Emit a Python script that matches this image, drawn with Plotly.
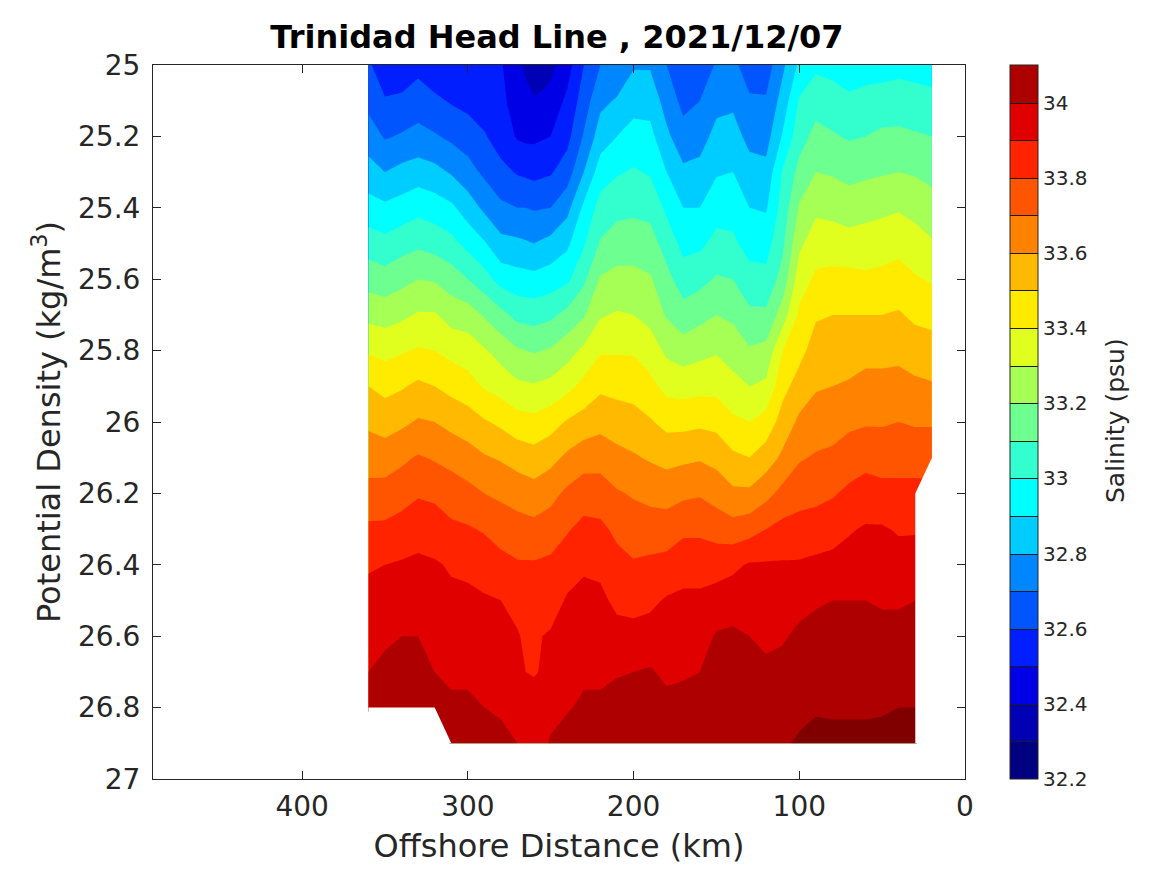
import numpy as np
import plotly.graph_objects as go

density = [25.0, 25.1, 25.2, 25.3, 25.4, 25.5, 25.6, 25.7, 25.8, 25.9,
           26.0, 26.1, 26.2, 26.3, 26.4, 26.5, 26.6, 26.7, 26.8, 26.9]
N = None
# salinity at each station, listed from the lightest to the densest level
s020 = [32.95,33.03,33.10,33.17,33.24,33.31,33.39,33.47,33.54,33.61,33.69,33.76,N,N,N,N,N,N,N,N]
s030 = [32.96,33.04,33.11,33.19,33.27,33.34,33.41,33.48,33.55,33.62,33.69,33.76,33.83,33.89,33.95,34.00,34.03,34.06,34.10,34.13]
s040 = [32.97,33.05,33.12,33.20,33.29,33.37,33.44,33.51,33.57,33.64,33.70,33.76,33.83,33.89,33.94,33.99,34.03,34.06,34.10,34.13]
s050 = [32.96,33.04,33.12,33.19,33.28,33.35,33.43,33.50,33.57,33.63,33.69,33.76,33.83,33.91,33.95,33.99,34.03,34.06,34.09,34.13]
s060 = [32.96,33.03,33.10,33.18,33.27,33.34,33.42,33.50,33.57,33.63,33.69,33.77,33.84,33.91,33.95,34.00,34.03,34.06,34.09,34.12]
s070 = [32.94,33.02,33.09,33.17,33.25,33.34,33.43,33.50,33.56,33.61,33.68,33.75,33.82,33.89,33.94,34.00,34.03,34.06,34.09,34.12]
s080 = [32.97,33.04,33.11,33.19,33.27,33.35,33.43,33.50,33.55,33.60,33.66,33.72,33.79,33.86,33.93,34.00,34.03,34.06,34.09,34.12]
s090 = [32.98,33.06,33.13,33.20,33.28,33.35,33.42,33.49,33.54,33.59,33.65,33.71,33.77,33.85,33.92,33.99,34.03,34.06,34.09,34.13]
s100 = [32.92,33.01,33.06,33.13,33.21,33.28,33.35,33.42,33.47,33.54,33.62,33.69,33.76,33.84,33.91,33.97,34.02,34.05,34.08,34.11]
s110 = [32.78,32.84,32.91,33.01,33.04,33.08,33.14,33.25,33.40,33.47,33.54,33.62,33.73,33.83,33.91,33.95,33.99,34.03,34.06,34.09]
s120 = [32.65,32.71,32.76,32.83,32.89,32.96,33.03,33.12,33.23,33.32,33.44,33.55,33.67,33.80,33.91,33.94,33.98,34.02,34.05,34.09]
s130 = [32.66,32.71,32.77,32.84,32.90,32.96,33.04,33.12,33.21,33.30,33.40,33.50,33.62,33.76,33.91,33.95,34.00,34.03,34.06,34.09]
s140 = [32.72,32.78,32.84,32.90,32.96,33.02,33.10,33.18,33.26,33.33,33.42,33.52,33.62,33.74,33.88,33.95,34.02,34.04,34.06,34.08]
s150 = [32.71,32.77,32.83,32.89,32.96,33.03,33.11,33.20,33.29,33.37,33.47,33.57,33.66,33.76,33.86,33.94,34.01,34.03,34.05,34.08]
s160 = [32.64,32.70,32.76,32.83,32.90,32.98,33.07,33.17,33.27,33.37,33.48,33.59,33.69,33.78,33.86,33.92,33.96,34.00,34.04,34.07]
s170 = [32.61,32.67,32.74,32.82,32.90,32.97,33.05,33.14,33.25,33.36,33.47,33.58,33.68,33.78,33.86,33.92,33.95,33.99,34.03,34.06]
s180 = [32.70,32.76,32.82,32.90,32.98,33.06,33.13,33.19,33.28,33.37,33.47,33.57,33.66,33.75,33.83,33.91,33.94,33.98,34.03,34.07]
s190 = [32.79,32.86,32.93,32.99,33.07,33.14,33.21,33.27,33.35,33.43,33.51,33.59,33.67,33.75,33.82,33.88,33.94,34.01,34.05,34.08]
s200 = [32.79,32.86,32.94,33.01,33.08,33.15,33.23,33.30,33.39,33.46,33.54,33.61,33.69,33.75,33.81,33.87,33.93,34.00,34.05,34.08]
s210 = [32.72,32.81,32.90,32.99,33.07,33.15,33.23,33.31,33.39,33.47,33.55,33.63,33.71,33.78,33.83,33.88,33.93,33.99,34.05,34.08]
s220 = [32.70,32.775,32.85,32.95,33.04,33.11,33.21,33.29,33.39,33.48,33.57,33.66,33.75,33.82,33.88,33.92,33.95,33.98,34.02,34.06]
s230 = [32.60,32.65,32.71,32.80,32.92,32.99,33.08,33.19,33.32,33.43,33.54,33.66,33.75,33.83,33.89,33.92,33.95,33.98,34.02,34.06]
s240 = [32.46,32.52,32.57,32.65,32.77,32.88,32.98,33.13,33.26,33.37,33.51,33.62,33.72,33.79,33.86,33.91,33.94,33.97,33.99,34.05]
s250 = [32.37,32.44,32.50,32.59,32.70,32.83,32.95,33.08,33.21,33.33,33.46,33.57,33.67,33.75,33.82,33.86,33.91,33.94,33.97,34.01]
s255 = [32.35,32.42,32.49,32.58,32.695,32.815,32.94,33.07,33.20,33.32,33.445,33.555,33.655,33.74,33.815,33.85,33.90,33.905,33.94,33.98]
s260 = [32.34,32.41,32.48,32.57,32.69,32.80,32.93,33.06,33.19,33.31,33.43,33.54,33.64,33.73,33.81,33.83,33.86,33.895,33.93,33.96]
s265 = [32.38,32.43,32.48,32.58,32.70,32.81,32.935,33.065,33.20,33.315,33.435,33.55,33.65,33.735,33.81,33.84,33.88,33.90,33.94,33.98]
s270 = [32.42,32.44,32.49,32.59,32.70,32.82,32.94,33.07,33.21,33.32,33.44,33.56,33.66,33.74,33.81,33.86,33.91,33.94,33.97,34.00]
s280 = [32.51,32.53,32.55,32.63,32.72,32.83,32.96,33.13,33.26,33.36,33.48,33.59,33.68,33.76,33.83,33.90,33.93,33.96,33.99,34.02]
s290 = [32.51,32.54,32.61,32.68,32.78,32.91,33.04,33.19,33.31,33.39,33.51,33.61,33.70,33.79,33.86,33.91,33.94,33.97,34.00,34.05]
s300 = [32.52,32.57,32.65,32.74,32.85,32.97,33.10,33.25,33.35,33.44,33.55,33.64,33.73,33.81,33.88,33.92,33.95,33.98,34.02,34.07]
s310 = [32.53,32.59,32.68,32.79,32.92,33.03,33.15,33.26,33.37,33.47,33.57,33.67,33.75,33.82,33.89,33.92,33.95,33.98,34.02,34.08]
s320 = [32.53,32.62,32.71,32.83,32.95,33.06,33.19,33.31,33.40,33.50,33.60,33.69,33.78,33.85,33.91,33.94,33.97,34.00,34.04,N]
s330 = [32.57,32.65,32.73,32.85,32.97,33.08,33.20,33.31,33.41,33.52,33.61,33.71,33.79,33.86,33.92,33.96,34.00,34.03,34.06,N]
s340 = [32.53,32.62,32.71,32.83,32.94,33.06,33.17,33.28,33.39,33.49,33.58,33.68,33.76,33.84,33.91,33.95,34.00,34.04,34.07,N]
s350 = [32.52,32.61,32.69,32.80,32.92,33.03,33.14,33.26,33.37,33.47,33.56,33.65,33.74,33.82,33.90,33.94,33.98,34.03,34.07,N]
s360 = [32.62,32.67,32.75,32.84,32.94,33.05,33.16,33.27,33.39,33.50,33.58,33.66,33.73,33.82,33.89,33.93,33.96,34.00,34.03,N]

stations = [20,30,40,50,60,70,80,90,100,110,120,130,140,150,160,170,180,190,200,
            210,220,230,240,250,255,260,265,270,280,290,300,310,320,330,340,350,360]
columns = [s020,s030,s040,s050,s060,s070,s080,s090,s100,s110,s120,s130,s140,s150,s160,s170,s180,s190,s200,
           s210,s220,s230,s240,s250,s255,s260,s265,s270,s280,s290,s300,s310,s320,s330,s340,s350,s360]

# edges of the sampled section
gap_left_km = [360, 320, 310, 360]
gap_left_density = [26.8, 26.8, 26.9, 26.9]
gap_right_km = [30, 20, 20, 30]
gap_right_density = [26.2, 26.1, 26.9, 26.9]

band_colors = ["#000080", "#0000b4", "#0000e6", "#001eff", "#0055ff", "#0087ff", "#00cdff",
               "#00ffff", "#32ffcd", "#6eff91", "#a5ff55", "#e1ff1e", "#ffeb00", "#ffb900",
               "#ff8200", "#ff5500", "#ff2300", "#e10000", "#af0000", "#800000"]
bar_colors = band_colors[:-1]
title_text = "Trinidad Head Line , 2021/12/07"

def stepped(colors):
    n = len(colors)
    out = []
    for i, c in enumerate(colors):
        out += [[i / n, c], [(i + 1) / n, c]]
    return out

Z = np.array([[np.nan if v is None else v for v in col] for col in columns], dtype=float).T
INK = "#262626"
FONT = "DejaVu Sans"

fig = go.Figure()
fig.add_trace(go.Contour(
    x=stations, y=density, z=Z, connectgaps=False, autocontour=False,
    contours=dict(start=32.3, end=34.1, size=0.1, coloring="fill", showlines=False),
    line=dict(width=0, smoothing=0), colorscale=stepped(band_colors), showscale=False, hoverinfo="skip"))
# legend bar carrier: sits outside the axis range, only its colour bar shows
fig.add_trace(go.Contour(
    x=[1000, 1001], y=[25, 27], z=[[32.2, 32.2], [34.1, 34.1]], autocontour=False,
    zmin=32.2, zmax=34.1,
    contours=dict(start=32.3, end=34.0, size=0.1, coloring="fill", showlines=True),
    line=dict(width=1, color="#1a1a1a", smoothing=0), colorscale=stepped(bar_colors), showscale=True,
    hoverinfo="skip",
    colorbar=dict(thickness=28, thicknessmode="pixels", len=714, lenmode="pixels",
                  x=(1010 - 153) / 812, xanchor="left", xpad=0, y=0, yanchor="bottom", ypad=0,
                  tick0=32.2, dtick=0.2, ticks="", outlinecolor=INK, outlinewidth=1,
                  tickfont=dict(family=FONT, size=20, color=INK))))
for xs, ys in [(gap_left_km, gap_left_density), (gap_right_km, gap_right_density)]:
    fig.add_trace(go.Scatter(x=xs, y=ys, mode="lines", fill="toself", fillcolor="white",
                             line=dict(width=0, color="white"), hoverinfo="skip", showlegend=False))

axis = dict(showgrid=False, zeroline=False, showline=True, mirror="ticks", linecolor=INK, linewidth=1,
            ticks="inside", ticklen=8, tickcolor=INK, tickwidth=1,
            tickfont=dict(family=FONT, size=28, color=INK), layer="above traces")
fig.update_layout(
    width=1151, height=859, margin=dict(l=145, r=194, t=57, b=88, autoexpand=False),
    paper_bgcolor="white", plot_bgcolor="white", showlegend=False,
    title=dict(text="<b>" + title_text + "</b>", x=(557 - 8) / 1151, xanchor="center", y=1 - (37 - 8) / 859, yanchor="middle",
               font=dict(family=FONT, size=32, color="black")),
    xaxis=dict(axis, range=[490, 0], tick0=0, dtick=100, ticklabelstandoff=2,
               title=dict(text="Offshore Distance (km)", standoff=13, font=dict(family=FONT, size=32, color=INK))),
    yaxis=dict(axis, range=[27, 25], tick0=25, dtick=0.2, ticklabelstandoff=6,
               title=dict(text="Potential Density (kg/m<sup>3</sup>)", standoff=7, font=dict(family=FONT, size=32, color=INK))),
    annotations=[dict(text="Salinity (psu)", textangle=-90, showarrow=False, xref="paper", yref="paper",
                      x=(1115 - 153) / 812, y=1 - (421 - 65) / 714, xanchor="center", yanchor="middle",
                      font=dict(family=FONT, size=25, color=INK))],
)
fig.write_html("out.html")
